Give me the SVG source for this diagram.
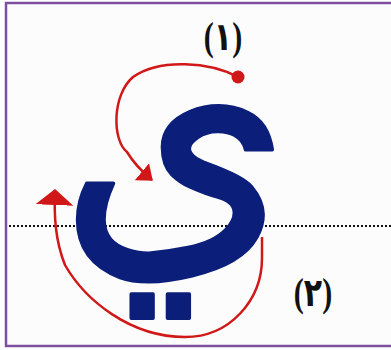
<svg xmlns="http://www.w3.org/2000/svg" width="391" height="350" viewBox="0 0 391 350">
<style>
.frame{fill:#fcfcfc;stroke:#7e4f9f;stroke-width:2.5}
.base{stroke:#111;stroke-width:2;stroke-dasharray:2 2;fill:none}
.conn{fill:none;stroke:#d01818;stroke-width:2.5}
.lbl{font-family:"Liberation Serif","DejaVu Sans",serif;font-weight:bold;font-size:30px;fill:#111;text-anchor:middle;unicode-bidi:bidi-override;direction:ltr}
.ya{font-family:"DejaVu Sans",sans-serif;font-size:330px;fill:#0b1f7a;stroke:#0b1f7a;stroke-width:4;stroke-linejoin:round;text-anchor:middle}
</style>
<defs>
<marker id="ahS" markerUnits="userSpaceOnUse" viewBox="0 0 14 22" refX="13" refY="11" markerWidth="14" markerHeight="22" orient="auto"><path d="M0,0 L14,11 L0,22 z" fill="#d01818"/></marker>
<marker id="ahL" markerUnits="userSpaceOnUse" viewBox="0 0 16 38" refX="15" refY="19" markerWidth="16" markerHeight="38" orient="auto"><path d="M0,0 L16,19 L0,38 z" fill="#d01818"/></marker>
</defs>
<rect class="frame" x="6" y="3" width="390" height="343"/>
<line class="base" x1="9" y1="226" x2="391" y2="226"/>
<g id="letter"><text class="ya" transform="translate(175,239) scale(0.9,0.98)">ي</text></g>
<g id="connectors">
<path class="conn" d="M238,77 C210,62 160,58 133,77 C112,95 112,140 127,152 C133,162 140,170 152,180" marker-end="url(#ahS)"/>
<path class="conn" d="M262,237 L262,258 C262,300 230,337 185,337 C130,337 85,300 65,265 C55,240 54,215 55,190" marker-end="url(#ahL)"/>
<circle cx="238" cy="77" r="6.5" fill="#d01818"/>
</g>
<g id="label1"><text class="lbl" transform="translate(223,50) scale(1,1.3)">(١)</text></g>
<g id="label2"><text class="lbl" transform="translate(313,306) scale(1,1.3)">(٢)</text></g>
</svg>
